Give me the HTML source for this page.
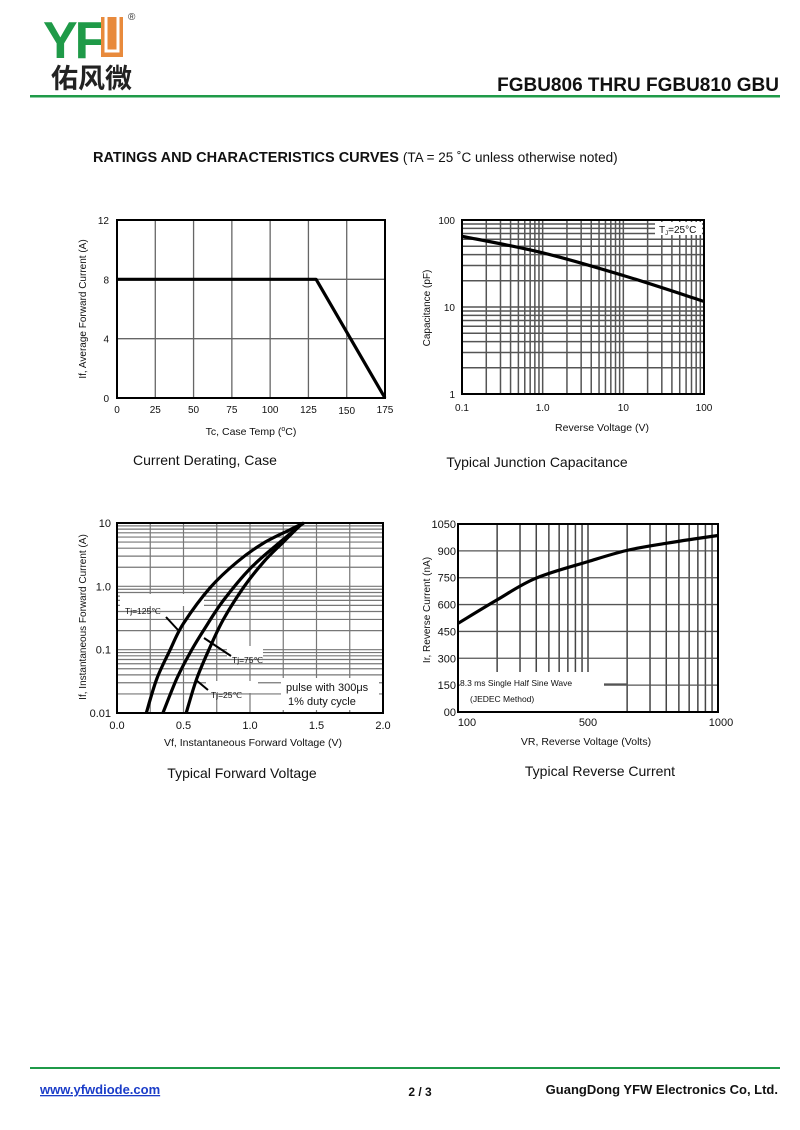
<!DOCTYPE html>
<html><head><meta charset="utf-8"><style>
body{margin:0;background:#fff;}
svg{display:block;font-family:"Liberation Sans",Arial,sans-serif;}
</style></head><body>
<svg id="s" width="800" height="1130" viewBox="0 0 800 1130" xmlns="http://www.w3.org/2000/svg">
<g>
<text x="43" y="58" font-size="52" font-weight="bold" fill="#1f9a48" letter-spacing="-3">YF</text>
<rect x="101" y="17" width="22" height="40" fill="#e88a3c"/>
<path d="M106 17 V51 H118 V17" stroke="#fff" stroke-width="3" fill="none"/>
<text x="128" y="20" font-size="10" fill="#333">®</text>
<text x="51" y="88" font-size="27" font-weight="bold" fill="#222" font-family="'Noto Sans CJK SC',sans-serif">佑风微</text>
<text x="779" y="91" font-size="19" font-weight="bold" text-anchor="end" fill="#111">FGBU806 THRU FGBU810  GBU</text>
<rect x="30" y="95" width="750" height="2.5" fill="#1f9a48"/>
<text x="93" y="162" font-size="14.5" font-weight="bold" fill="#111">RATINGS AND CHARACTERISTICS CURVES <tspan font-weight="normal" font-size="13.5">(TA = 25 ˚C unless otherwise noted)</tspan></text>
</g>
<g id="c1"></g>
<g id="c2"></g>
<g id="c3"></g>
<g id="c4"></g>
<g>
<rect x="30" y="1067" width="750" height="2" fill="#1f9a48"/>
<text x="40" y="1094" font-size="13" font-weight="bold" fill="#1a3cc8" text-decoration="underline">www.yfwdiode.com</text>
<text x="420" y="1096" font-size="12" font-weight="bold" text-anchor="middle" fill="#111">2 / 3</text>
<text x="778" y="1094" font-size="13" font-weight="bold" text-anchor="end" fill="#111">GuangDong YFW Electronics Co, Ltd.</text>
</g>
</svg>
<script>
// Chart 1: derating
const c1Temps=[0,130,175];
const c1Current=[8,8,0];
const c1XTicks=[0,25,50,75,100,125,150,175];
const c1YTicks=[0,4,8,12];
// Chart 2: capacitance
const c2Volt=[0.1,1,10,100];
const c2Cap=[65,42,23,11.6];
const c2XTicks=["0.1","1.0","10","100"];
const c2YTicks=["1","10","100"];
// Chart 3: forward voltage
const c3V125=[0.22,0.3,0.4,0.5,0.7,0.9,1.1,1.3,1.405];
const c3I125=[0.01,0.035,0.1,0.26,0.95,2.4,4.8,7.8,10];
const c3V75=[0.345,0.45,0.55,0.65,0.8,1.0,1.2,1.4];
const c3I75=[0.01,0.035,0.09,0.2,0.6,1.9,4.5,10];
const c3V25=[0.52,0.6,0.7,0.8,0.95,1.1,1.25,1.395];
const c3I25=[0.01,0.035,0.11,0.3,0.95,2.4,5,10];
const c3XTicks=["0.0","0.5","1.0","1.5","2.0"];
const c3YTicks=["0.01","0.1","1.0","10"];
// Chart 4: reverse current
const c4Volt=[100,220,339,500,648,803,1000];
const c4Cur=[495,626,747,840,902,943,986];
const c4YTicks=[0,150,300,450,600,750,900,1050];
const c4XTicks=[100,500,1000];

const NS="http://www.w3.org/2000/svg";
function el(p,t,a){const e=document.createElementNS(NS,t);for(const k in a)e.setAttribute(k,a[k]);p.appendChild(e);return e;}
function txt(p,x,y,s,size,anchor,extra){const e=el(p,'text',Object.assign({x:x,y:y,'font-size':size,'text-anchor':anchor||'middle',fill:'#111'},extra||{}));e.textContent=s;return e;}
function gl(p,x1,y1,x2,y2,w,c){const e=el(p,'line',{x1:x1,y1:y1,x2:x2,y2:y2,stroke:c||'#777','stroke-width':w||1});return e;}
function curve(p,xs,ys,fx,fy,name,smooth){
  const P=xs.map((v,i)=>[fx(v),fy(ys[i])]);
  let d='M'+P[0][0].toFixed(1)+' '+P[0][1].toFixed(1);
  for(let i=0;i<P.length-1;i++){
    if(!smooth){d+='L'+P[i+1][0].toFixed(1)+' '+P[i+1][1].toFixed(1);continue;}
    const p0=P[i-1]||P[i],p1=P[i],p2=P[i+1],p3=P[i+2]||P[i+1];
    const c1=[p1[0]+(p2[0]-p0[0])/6,p1[1]+(p2[1]-p0[1])/6],c2=[p2[0]-(p3[0]-p1[0])/6,p2[1]-(p3[1]-p1[1])/6];
    d+='C'+c1.map(n=>n.toFixed(1)).join(' ')+' '+c2.map(n=>n.toFixed(1)).join(' ')+' '+p2[0].toFixed(1)+' '+p2[1].toFixed(1);
  }
  const e=el(p,'path',{d:d,fill:'none',stroke:'#000','stroke-width':3.2,'stroke-linejoin':'round'});return e;}
function frame(p,l,t,r,b){const e=el(p,'rect',{x:l,y:t,width:r-l,height:b-t,fill:'none',stroke:'#000','stroke-width':2});}
function title(p,x,y,s,name){const e=txt(p,x,y,s,14,'middle',{'font-family':'"Liberation Sans",sans-serif'});}
function ytitle(p,x,y,s){const e=txt(p,x,y,s,10,'middle',{transform:'rotate(-90 '+x+' '+y+')'});}
function xtitle(p,x,y,s){const e=txt(p,x,y,s,10.5,'middle');return e;}

// ---- Chart 1
(function(){const g=document.getElementById('c1');const L=117,R=385,T=220,B=398;
const fx=v=>L+(v-0)/175*(R-L), fy=v=>B-(v/12)*(B-T);
c1XTicks.forEach(v=>{gl(g,fx(v),T,fx(v),B,1.3,'#666');const t=txt(g,fx(v),v==150?414:413,String(v),10);});
c1YTicks.forEach(v=>{gl(g,L,fy(v),R,fy(v),1.3,'#666');const t=txt(g,L-8,fy(v)+4,String(v),10,'end');});
frame(g,L,T,R,B);curve(g,c1Temps,c1Current,fx,fy,'derating-curve',false);
const xt=xtitle(g,251,435,'');xt.innerHTML='Tc, Case Temp (<tspan font-size="7" dy="-4">o</tspan><tspan dy="4">C)</tspan>';
ytitle(g,86,309,'If, Average Forward Current (A)');
title(g,205,465,'Current Derating, Case','chart-caption');})();

// ---- Chart 2
(function(){const g=document.getElementById('c2');const L=462,R=704,T=220,B=394;
const fx=v=>L+(Math.log10(v)+1)/3*(R-L), fy=v=>B-Math.log10(v)/2*(B-T);
for(let d=0.1;d<100;d*=10)for(let k=1;k<10;k++){const v=d*k;gl(g,fx(v),T,fx(v),B,1.5,'#555');}
for(let d=1;d<100;d*=10)for(let k=1;k<10;k++){const v=d*k;gl(g,L,fy(v),R,fy(v),1.5,'#555');}
c2XTicks.forEach(s=>{const t=txt(g,fx(parseFloat(s)),411,s,10);});
c2YTicks.forEach(s=>{const t=txt(g,L-7,fy(parseFloat(s))+4,s,10,'end');});
frame(g,L,T,R,B);
const bx=el(g,'rect',{x:655,y:222,width:47,height:13,fill:'#fff'});
const lt=txt(g,659,233,'',10,'start');lt.innerHTML='T<tspan font-size="6" dy="2">J</tspan><tspan dy="-2">=25°C</tspan>';
curve(g,c2Volt,c2Cap,fx,fy,'capacitance-curve',true);
xtitle(g,602,431,'Reverse Voltage (V)');ytitle(g,430,308,'Capacitance (pF)');
title(g,537,467,'Typical Junction Capacitance','chart-caption');})();

// ---- Chart 3
(function(){const g=document.getElementById('c3');const L=117,R=383,T=523,B=713;
const fx=v=>L+v/2*(R-L), fy=v=>B-(Math.log10(v)+2)/3*(B-T);
for(let v=0.25;v<2;v+=0.25)gl(g,fx(v),T,fx(v),B,1.2,'#777');
for(let d=0.01;d<10;d*=10)for(let k=1;k<10;k++){const v=d*k;gl(g,L,fy(v),R,fy(v),1.2,'#777');}
c3XTicks.forEach(s=>{const t=txt(g,fx(parseFloat(s)),729,s,11);});
c3YTicks.forEach(s=>{const t=txt(g,L-6,fy(parseFloat(s))+4,s,11,'end');});
frame(g,L,T,R,B);
[[122,603,'Tj=125℃',82],[229,655,'Tj=75℃',34],[208,690,'Tj=25℃',50]].forEach(a=>{const b=el(g,'rect',{x:a[0]-2,y:a[1]-9,width:a[3]+2,height:12,fill:'#fff'});});
const pb=el(g,'rect',{x:281,y:678,width:98,height:32,fill:'#fff'});
curve(g,c3V125,c3I125,fx,fy,'curve-tj125',true);curve(g,c3V75,c3I75,fx,fy,'curve-tj75',true);curve(g,c3V25,c3I25,fx,fy,'curve-tj25',true);
[[166,617,178,630],[231,656,204,638],[208,690,196,680]].forEach(a=>{const e=el(g,'line',{x1:a[0],y1:a[1],x2:a[2],y2:a[3],stroke:'#000','stroke-width':2});});
const t1=txt(g,125,614,'Tj=125℃',8.5,'start');
const t2=txt(g,232,663,'Tj=75℃',8.5,'start');
const t3=txt(g,211,698,'Tj=25℃',8.5,'start');
const n1=txt(g,286,691,'pulse with 300μs',11,'start');
const n2=txt(g,288,705,'1% duty cycle',11,'start');
xtitle(g,253,746,'Vf, Instantaneous Forward  Voltage (V)');ytitle(g,86,617,'If, Instantaneous Forward Current (A)');
title(g,242,778,'Typical Forward Voltage','chart-caption');})();

// ---- Chart 4
(function(){const g=document.getElementById('c4');const L=458,R=718,T=524,B=712;const M=(L+R)/2;
const fx=v=>v<=500?L+(v-100)/400*(M-L):M+(v-500)/500*(R-M), fy=v=>B-v/1050*(B-T);
for(let k=2;k<=10;k++){const o=Math.log10(k)*(M-L);gl(g,L+o,T,L+o,B-40,1.5,'#444');if(k<10)gl(g,M+o,T,M+o,B,1.5,'#444');}
c4YTicks.forEach(v=>{gl(g,L,fy(v),R,fy(v),1.3,'#555');const t=txt(g,L-2,fy(v)+4,v==0?'00':String(v),11,'end');});
c4XTicks.forEach(v=>{const t=txt(g,fx(v)+(v==100?9:v==1000?3:0),726,String(v),11);});
frame(g,L,T,R,B);
const nb=el(g,'rect',{x:460,y:674,width:144,height:36,fill:'#fff'});
gl(g,604,684,M+Math.log10(2)*(M-L),684,1.3,'#555');
curve(g,c4Volt,c4Cur,fx,fy,'reverse-current-curve',true);
const a=txt(g,460,686,'8.3 ms Single Half Sine Wave',8.5,'start');
const b=txt(g,470,702,'(JEDEC Method)',8.5,'start');
xtitle(g,586,745,'VR, Reverse Voltage (Volts)');ytitle(g,430,610,'Ir, Reverse Current (nA)');
title(g,600,776,'Typical Reverse Current','chart-caption');})();
</script>
</body></html>
